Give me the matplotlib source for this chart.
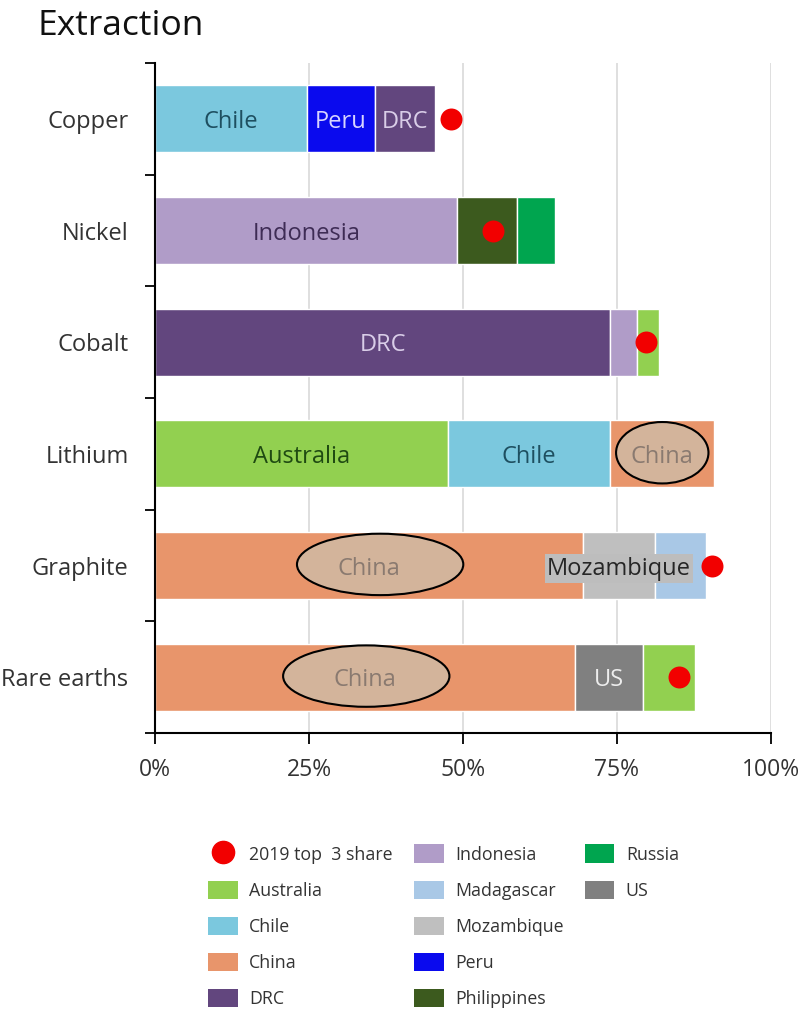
import numpy as np
import matplotlib.pyplot as plt
from matplotlib.patches import Ellipse, Patch
from matplotlib.lines import Line2D

plt.rcParams['font.family'] = ['Open Sans', 'DejaVu Sans']

# Share of world extraction (%) of the three biggest producers per mineral
minerals = ['Copper', 'Nickel', 'Cobalt', 'Lithium', 'Graphite', 'Rare earths']
first_country = ['Chile', 'Indonesia', 'DRC', 'Australia', 'China', 'China']
first_share = [24.7, 49.1, 73.9, 47.5, 69.5, 68.2]
second_country = ['Peru', 'Philippines', 'Indonesia', 'Chile', 'Mozambique', 'US']
second_share = [11.0, 9.6, 4.4, 26.4, 11.6, 11.0]
third_country = ['DRC', 'Russia', 'Australia', 'China', 'Madagascar', 'Australia']
third_share = [9.7, 6.3, 3.6, 16.9, 8.3, 8.5]
top3_2019 = [48.0, 54.9, 79.7, 87.5, 90.5, 85.0]

# which segments carry a country name
show_label = [[True, True, True],
              [True, False, False],
              [True, False, False],
              [True, True, True],
              [True, True, False],
              [True, True, False]]

colors = {
    'Australia': '#92D050',
    'Chile': '#7BC8DE',
    'China': '#E8956B',
    'DRC': '#62467E',
    'Indonesia': '#B09CC8',
    'Madagascar': '#A9C8E6',
    'Mozambique': '#BFBFBF',
    'Peru': '#0A0AEE',
    'Philippines': '#3C5A1E',
    'Russia': '#00A54F',
    'US': '#808080',
}
text_colors = {
    'Australia': '#1F4A12',
    'Chile': '#1E4F60',
    'China': '#8A7A70',
    'DRC': '#D9CDE8',
    'Indonesia': '#3E2C55',
    'Mozambique': '#262626',
    'Peru': '#D8D4FF',
    'US': '#EDEDED',
}
# horizontal nudge of the highlight ellipses, per mineral
ellipse_shift = [0, 0, 0, 0, 1.8, 0.2]

fig = plt.figure(figsize=(8.08, 10.16), dpi=100)
ax = fig.add_axes([0.1918, 0.2785, 0.7624, 0.6595])

y = np.arange(len(minerals))
countries = [first_country, second_country, third_country]
shares = [first_share, second_share, third_share]
left = np.zeros(len(minerals))
for rank in range(3):
    vals = np.array(shares[rank])
    ax.barh(y, vals, left=left, height=0.6,
            color=[colors[c] for c in countries[rank]],
            edgecolor='white', linewidth=1, zorder=2)
    for i, c in enumerate(countries[rank]):
        if not show_label[i][rank]:
            continue
        cx = left[i] + vals[i] / 2
        kw = {}
        if c == 'China':
            # highlight China with an ellipse behind its label
            w = 27 if vals[i] > 40 else 15
            ax.add_patch(Ellipse((cx + ellipse_shift[i], y[i] - 0.01),
                                 w, 0.55, facecolor='#D3B49B',
                                 edgecolor='black', lw=1.5, zorder=4))
        if c == 'Mozambique':
            kw['bbox'] = dict(facecolor='#BDBDBD', edgecolor='none', pad=1.5)
        ax.text(cx, y[i], c, ha='center', va='center_baseline', fontsize=17,
                color=text_colors[c], zorder=5, **kw)
    left += vals

ax.scatter(top3_2019, y, s=250, color='#F20000', zorder=3, linewidths=0)

ax.set_xlim(0, 100)
ax.set_ylim(len(minerals) - 0.5, -0.5)
ax.set_xticks([0, 25, 50, 75, 100])
ax.set_xticklabels(['0%', '25%', '50%', '75%', '100%'])
ax.set_yticks(y)
ax.set_yticklabels(minerals)
ax.set_yticks(np.arange(len(minerals) + 1) - 0.5, minor=True)
ax.tick_params(axis='y', which='major', length=0, pad=19, labelsize=17, labelcolor='#333333')
ax.tick_params(axis='y', which='minor', length=7, width=1.3, direction='out')
ax.tick_params(axis='x', length=8, width=1.3, pad=10, labelsize=16.5, labelcolor='#333333')
ax.grid(axis='x', color='#D9D9D9', lw=1.2)
ax.set_axisbelow(True)
for side in ['top', 'right']:
    ax.spines[side].set_visible(False)
for side in ['left', 'bottom']:
    ax.spines[side].set_linewidth(1.5)

fig.text(0.047, 0.9656, 'Extraction', fontsize=25.5, va='baseline', color='#111111')

legend_names = ['Australia', 'Chile', 'China', 'DRC', 'Indonesia', 'Madagascar',
                'Mozambique', 'Peru', 'Philippines', 'Russia', 'US']
handles = [Line2D([], [], marker='o', color='#F20000', linestyle='none', markersize=16)]
handles += [Patch(facecolor=colors[n]) for n in legend_names]
labels = ['2019 top  3 share'] + legend_names
# pad the last column so the legend fills as 5 / 5 / 2
for _ in range(3):
    handles.append(Patch(facecolor='none', edgecolor='none'))
    labels.append('')
fig.legend(handles, labels, ncol=3, loc='upper left',
           bbox_to_anchor=(0.258, 0.1688), frameon=False, fontsize=12.8,
           handlelength=1.65, handleheight=1.2, handletextpad=0.65,
           labelspacing=0.96, columnspacing=1.2, borderpad=0, borderaxespad=0,
           labelcolor='#333333')

fig.savefig('out.png', dpi=100)
